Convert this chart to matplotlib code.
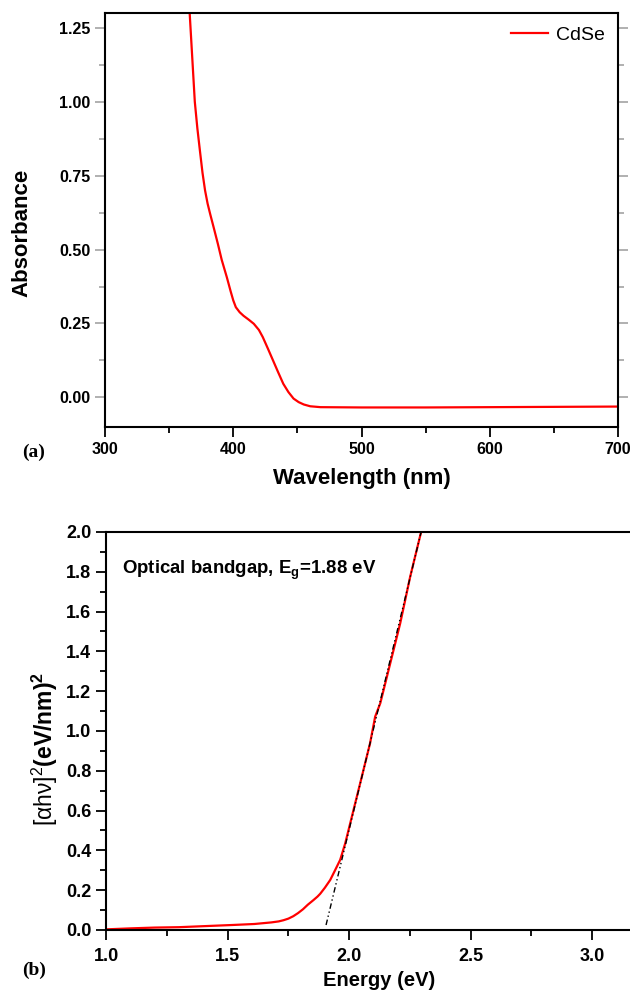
import numpy as np
import matplotlib
matplotlib.use("Agg")
import matplotlib.pyplot as plt
from matplotlib.ticker import MultipleLocator, FormatStrFormatter

plt.rcParams['font.family'] = ['Liberation Sans', 'DejaVu Sans']
plt.rcParams['mathtext.fontset'] = 'custom'
plt.rcParams['mathtext.rm'] = 'Liberation Sans'
plt.rcParams['mathtext.bf'] = 'Liberation Sans:bold'

# (a) absorbance spectrum
wavelength = [366, 368, 370, 372, 374, 376, 378, 380, 382, 385, 388, 391,
              395, 398, 400, 402, 405, 408, 412, 416, 420, 423, 427, 431,
              435, 439, 443, 447, 451, 455, 460, 468, 500, 550, 600, 650, 700]
absorbance = [1.30, 1.15, 1.00, 0.91, 0.834, 0.76, 0.70, 0.655, 0.62, 0.57,
              0.519, 0.465, 0.406, 0.358, 0.328, 0.305, 0.288, 0.276, 0.263,
              0.249, 0.228, 0.204, 0.165, 0.125, 0.085, 0.046, 0.018, -0.004,
              -0.016, -0.024, -0.030, -0.033, -0.034, -0.034, -0.033, -0.032,
              -0.031]

# (b) Tauc plot
energy = [1.00, 1.10, 1.20, 1.25, 1.30, 1.40, 1.52, 1.61, 1.68, 1.71, 1.73,
          1.75, 1.77, 1.79, 1.81, 1.83, 1.853, 1.87, 1.881, 1.90, 1.922,
          1.94, 1.963, 1.984, 2.018, 2.052, 2.086, 2.107, 2.128, 2.169, 2.21,
          2.251, 2.296]
tauc = [0.003, 0.008, 0.012, 0.013, 0.014, 0.019, 0.025, 0.030, 0.038, 0.043,
        0.049, 0.057, 0.069, 0.085, 0.104, 0.127, 0.150, 0.168, 0.182, 0.212,
        0.251, 0.295, 0.352, 0.436, 0.603, 0.770, 0.938, 1.072, 1.139, 1.340,
        1.541, 1.775, 2.0]
fit_x = [1.905, 2.30]
fit_y = [0.025, 2.02]

fig = plt.figure(figsize=(6.3, 9.99), dpi=100)

def style(ax, size):
    for s in ax.spines.values():
        s.set_linewidth(1.5)
    ax.tick_params(which='both', direction='out', width=1.3, labelsize=size)
    ax.tick_params(which='major', length=7)
    ax.tick_params(which='minor', length=4)
    for lab in ax.get_xticklabels() + ax.get_yticklabels():
        lab.set_fontweight('bold')

ax1 = fig.add_axes([0.1667, 0.5726, 0.8143, 0.4144])
ax1.plot(wavelength, absorbance, color='#ff0000', lw=1.6, label='CdSe')
ax1.set_xlim(300, 700)
ax1.set_ylim(-0.1, 1.3)
ax1.xaxis.set_major_locator(MultipleLocator(100))
ax1.xaxis.set_minor_locator(MultipleLocator(50))
ax1.yaxis.set_major_locator(MultipleLocator(0.25))
ax1.yaxis.set_minor_locator(MultipleLocator(0.125))
ax1.yaxis.set_major_formatter(FormatStrFormatter('%.2f'))
style(ax1, 11.5)
ax1.tick_params(which='both', axis='y', right=True, color='#aaaaaa')
ax1.tick_params(which='both', axis='y', left=True)
ax1.set_xlabel('Wavelength (nm)', fontsize=16, fontweight='bold', labelpad=8)
ax1.set_ylabel('Absorbance', fontsize=16, fontweight='bold')
ax1.yaxis.set_label_coords(-0.142, 0.47)
ax1.legend(loc='upper right', frameon=False, fontsize=14, handlelength=1.9,
           handletextpad=0.4, borderaxespad=0.3)
fig.text(0.035, 0.547, '(a)', fontsize=14, fontweight='bold',
         family='Liberation Serif', va='center')

ax2 = fig.add_axes([0.1683, 0.0691, 0.8683, 0.3984])
ax2.plot(energy, tauc, color='#ff0000', lw=1.6)
ax2.plot(fit_x, fit_y, color='black', lw=1.0, linestyle=(0, (4, 2, 1, 2, 1, 2)))
ax2.set_xlim(1.0, 3.25)
ax2.set_ylim(0, 2.0)
ax2.xaxis.set_major_locator(MultipleLocator(0.5))
ax2.xaxis.set_minor_locator(MultipleLocator(0.25))
ax2.yaxis.set_major_locator(MultipleLocator(0.2))
ax2.yaxis.set_minor_locator(MultipleLocator(0.1))
style(ax2, 13)
ax2.tick_params(axis='x', pad=6)
ax2.set_xlabel('Energy (eV)', fontsize=14.5, fontweight='bold', labelpad=4)
ax2.set_ylabel(r'$\mathrm{[\alpha h\nu]^{2}}\mathbf{(eV/nm)^{2}}$', fontsize=16.5)
ax2.yaxis.set_label_coords(-0.085, 0.455)
ax2.text(1.066, 1.81, r'Optical bandgap, E$_\mathbf{g}$=1.88 eV', fontsize=13.4,
         fontweight='bold', va='center')
fig.text(0.035, 0.029, '(b)', fontsize=14, fontweight='bold',
         family='Liberation Serif', va='center')

fig.savefig('out.png', dpi=100)
